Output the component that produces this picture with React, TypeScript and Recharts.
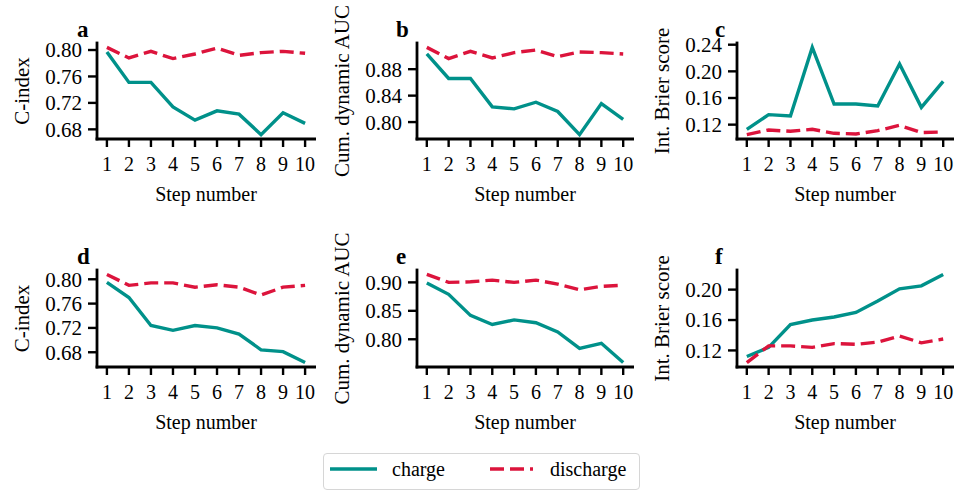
import { Line, LineChart, XAxis, YAxis } from "recharts"

const FONT = '"Liberation Serif", "Times New Roman", serif'
const TEAL = "#00918a"
const CRIMSON = "#dc143c"

// step numbers on every x axis
const steps = [1, 2, 3, 4, 5, 6, 7, 8, 9, 10]

// top row
const cIndexChargeTop = [0.797, 0.751, 0.751, 0.714, 0.694, 0.708, 0.703, 0.672, 0.705, 0.689]
const cIndexDischargeTop = [0.804, 0.788, 0.798, 0.787, 0.794, 0.803, 0.792, 0.796, 0.798, 0.795]
const aucChargeTop = [0.903, 0.866, 0.866, 0.823, 0.82, 0.83, 0.816, 0.781, 0.828, 0.804]
const aucDischargeTop = [0.913, 0.896, 0.907, 0.897, 0.905, 0.909, 0.899, 0.906, 0.905, 0.903]
const brierChargeTop = [0.113, 0.135, 0.133, 0.236, 0.151, 0.151, 0.148, 0.211, 0.146, 0.185]
const brierDischargeTop = [0.105, 0.112, 0.11, 0.113, 0.107, 0.106, 0.111, 0.119, 0.108, 0.109]

// bottom row
const cIndexChargeBottom = [0.795, 0.77, 0.724, 0.716, 0.724, 0.72, 0.71, 0.684, 0.681, 0.663]
const cIndexDischargeBottom = [0.808, 0.79, 0.794, 0.794, 0.787, 0.791, 0.787, 0.774, 0.787, 0.79]
const aucChargeBottom = [0.899, 0.879, 0.842, 0.826, 0.834, 0.829, 0.813, 0.784, 0.793, 0.759]
const aucDischargeBottom = [0.914, 0.9, 0.901, 0.904, 0.9, 0.904, 0.897, 0.887, 0.893, 0.895]
const brierChargeBottom = [0.112, 0.124, 0.154, 0.16, 0.164, 0.17, 0.185, 0.201, 0.205, 0.22]
const brierDischargeBottom = [0.104, 0.126, 0.126, 0.124, 0.129, 0.128, 0.131, 0.139, 0.13, 0.135]

// y tick labels
const cIndexTicks = [0.68, 0.72, 0.76, 0.8]
const aucTicksTop = [0.8, 0.84, 0.88]
const brierTicksTop = [0.12, 0.16, 0.2, 0.24]
const aucTicksBottom = [0.8, 0.85, 0.9]
const brierTicksBottom = [0.12, 0.16, 0.2]

const AXIS_W = 92
const TOP = 43
const BOTTOM = 80

type PanelProps = {
  x: number
  y: number
  w: number
  h: number
  letter: string
  letterDx: number
  yLabel: string
  charge: number[]
  discharge: number[]
  ticks: number[]
}

function Panel({ x, y, w, h, letter, letterDx, yLabel, charge, discharge, ticks }: PanelProps) {
  const data = steps.map((step, i) => ({ step, charge: charge[i], discharge: discharge[i] }))
  const all = [...charge, ...discharge]
  const lo = Math.min(...all)
  const hi = Math.max(...all)
  const pad = (hi - lo) * 0.05

  const xLabel = ({ viewBox }: any) => (
    <text
      x={viewBox.x + viewBox.width / 2}
      y={viewBox.y + 62}
      textAnchor="middle"
      fontSize={20}
      fontFamily={FONT}
      fill="#000"
    >
      Step number
    </text>
  )

  const yLabelAndLetter = ({ viewBox }: any) => {
    const cx = viewBox.x + AXIS_W - 75
    const cy = viewBox.y + viewBox.height / 2
    return (
      <g>
        <text
          x={cx}
          y={cy}
          dy="0.35em"
          transform={`rotate(-90 ${cx} ${cy})`}
          textAnchor="middle"
          fontSize={21}
          fontFamily={FONT}
          fill="#000"
        >
          {yLabel}
        </text>
        <text
          x={viewBox.x + AXIS_W + letterDx}
          y={viewBox.y - 6}
          fontSize={23}
          fontWeight="bold"
          fontFamily={FONT}
          fill="#000"
        >
          {letter}
        </text>
      </g>
    )
  }

  return (
    <div style={{ position: "absolute", left: x - AXIS_W, top: y - TOP }}>
      <LineChart
        width={AXIS_W + w + 1}
        height={TOP + h + BOTTOM}
        data={data}
        margin={{ top: TOP, right: 1, bottom: 0, left: 0 }}
      >
        <XAxis
          dataKey="step"
          type="number"
          domain={[0.55, 10.45]}
          ticks={steps}
          interval={0}
          height={BOTTOM}
          axisLine={{ stroke: "#000", strokeWidth: 2.8, strokeLinecap: "square" }}
          tickLine={{ stroke: "#000", strokeWidth: 2.4 }}
          tickSize={8}
          tickMargin={10}
          tick={{ fill: "#000", fontSize: 20, fontFamily: FONT }}
          label={xLabel}
        />
        <YAxis
          type="number"
          domain={[lo - pad, hi + pad]}
          ticks={ticks}
          interval={0}
          width={AXIS_W}
          axisLine={{ stroke: "#000", strokeWidth: 2.8, strokeLinecap: "square" }}
          tickLine={{ stroke: "#000", strokeWidth: 2.4 }}
          tickSize={9}
          tickMargin={6}
          tick={{ fill: "#000", fontSize: 21, fontFamily: FONT }}
          tickFormatter={(v: number) => v.toFixed(2)}
          label={yLabelAndLetter}
        />
        <Line
          dataKey="charge"
          stroke={TEAL}
          strokeWidth={3.4}
          dot={false}
          isAnimationActive={false}
        />
        <Line
          dataKey="discharge"
          stroke={CRIMSON}
          strokeWidth={3.4}
          strokeDasharray="14 6"
          dot={false}
          isAnimationActive={false}
        />
      </LineChart>
    </div>
  )
}

function FigureLegend() {
  return (
    <div
      style={{
        position: "absolute",
        left: 323,
        top: 453,
        width: 317,
        height: 37,
        boxSizing: "border-box",
        border: "1.5px solid #d6d6d6",
        borderRadius: 4,
        background: "#fff",
      }}
    >
      <svg width={314} height={34} style={{ display: "block" }}>
        <line x1={6} x2={53} y1={15} y2={15} stroke={TEAL} strokeWidth={3.4} />
        <text x={68} y={22} fontSize={20} fontFamily={FONT} fill="#000">
          charge
        </text>
        <line
          x1={166}
          x2={209}
          y1={15}
          y2={15}
          stroke={CRIMSON}
          strokeWidth={3.4}
          strokeDasharray="14 6"
        />
        <text x={226} y={22} fontSize={20} fontFamily={FONT} fill="#000">
          discharge
        </text>
      </svg>
    </div>
  )
}

export default function App() {
  return (
    <div
      style={{
        position: "fixed",
        left: 0,
        top: 0,
        width: 954,
        height: 492,
        overflow: "hidden",
        background: "#fff",
      }}
    >
      <Panel x={97} y={43} w={218} h={96} letter="a" letterDx={-20} yLabel="C-index"
        charge={cIndexChargeTop} discharge={cIndexDischargeTop} ticks={cIndexTicks} />
      <Panel x={417} y={43} w={216} h={96} letter="b" letterDx={-21} yLabel="Cum. dynamic AUC"
        charge={aucChargeTop} discharge={aucDischargeTop} ticks={aucTicksTop} />
      <Panel x={737} y={43} w={216} h={96} letter="c" letterDx={-22} yLabel="Int. Brier score"
        charge={brierChargeTop} discharge={brierDischargeTop} ticks={brierTicksTop} />
      <Panel x={97} y={270} w={218} h={97} letter="d" letterDx={-20} yLabel="C-index"
        charge={cIndexChargeBottom} discharge={cIndexDischargeBottom} ticks={cIndexTicks} />
      <Panel x={417} y={270} w={216} h={97} letter="e" letterDx={-21} yLabel="Cum. dynamic AUC"
        charge={aucChargeBottom} discharge={aucDischargeBottom} ticks={aucTicksBottom} />
      <Panel x={737} y={270} w={216} h={97} letter="f" letterDx={-22} yLabel="Int. Brier score"
        charge={brierChargeBottom} discharge={brierDischargeBottom} ticks={brierTicksBottom} />
      <FigureLegend />
    </div>
  )
}
